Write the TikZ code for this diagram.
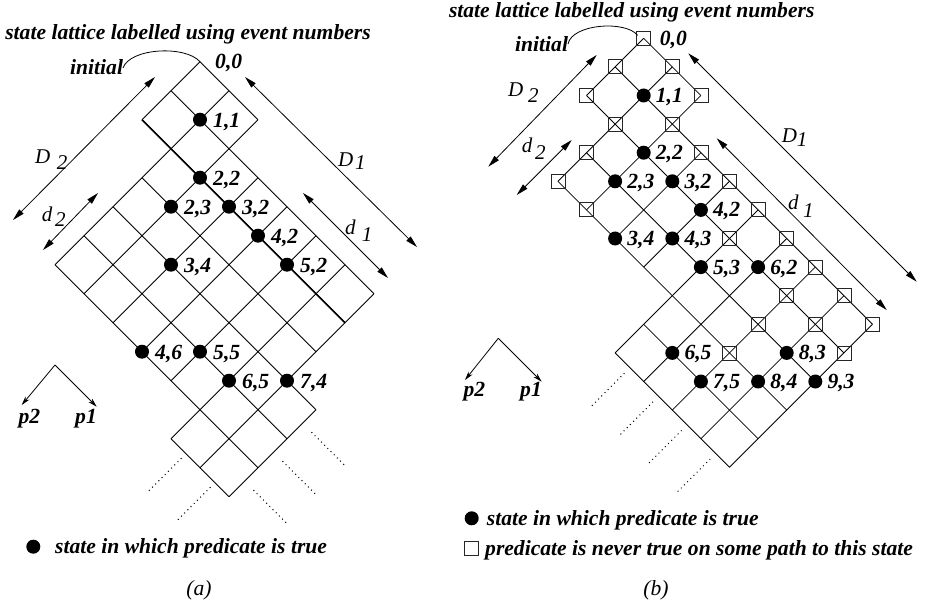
\documentclass[tikz,border=0pt]{standalone}
\usepackage{fontspec}
\setmainfont{Liberation Serif}
\usetikzlibrary{arrows.meta,calc}
\begin{document}
\begin{tikzpicture}[x=1pt,y=-1pt,
  lat/.style={line width=0.8pt},
  thk/.style={line width=1.5pt},
  dot/.style={circle,fill=black,draw=none,inner sep=0pt,minimum size=14pt},
  sq/.style={draw=black!85,line width=0.8pt,inner sep=0pt,minimum size=14pt},
  lbl/.style={anchor=base west,inner sep=0pt,font=\fontsize{21.6}{24}\selectfont\bfseries\itshape},
  txt/.style={inner sep=0pt,font=\fontsize{21.6}{24}\selectfont\bfseries\itshape},
  dimlbl/.style={anchor=base west,inner sep=0pt,font=\fontsize{21}{24}\selectfont\itshape},
  dim/.style={line width=0.8pt,{Triangle[length=12pt,width=6pt]}-{Triangle[length=12pt,width=6pt]}},
  ax/.style={line width=0.8pt,-{Stealth[length=9pt,width=5pt]}},
  dots/.style={line width=1pt,dash pattern=on 1pt off 3.5pt},
]
\useasboundingbox (0,0) rectangle (930,607);

% ---------------- left lattice ----------------
\foreach \i/\lo/\hi in {0/0/2,1/0/6,2/0/6,3/1/6,4/1/6,5/1/6,6/1/7,7/1/7,8/4/7}{
  \foreach \j in {\lo,...,\hi}{
    \coordinate (L-\i-\j) at ({200+(\i-\j)*29},{61.7+(\i+\j)*29});
  }
}
\foreach \i/\lo/\hi in {0/0/2,1/0/6,2/0/6,3/1/6,4/1/6,5/1/6,6/1/7,7/1/7,8/4/7}{
  \draw[lat] (L-\i-\lo) -- (L-\i-\hi);
}
\foreach \j/\lo/\hi in {0/0/2,1/0/7,2/0/7,3/1/7,4/1/8,5/1/8,6/1/8,7/6/8}{
  \draw[lat] (L-\lo-\j) -- (L-\hi-\j);
}
\draw[thk] (L-0-2) -- (L-7-2);
\foreach \i/\j in {1/1,2/2,2/3,3/2,4/2,3/4,5/2,4/6,5/5,6/5,7/4}{
  \node[dot] (Ld-\i-\j) at (L-\i-\j) {};
  \node[lbl] (Ll-\i-\j) at ($(L-\i-\j)+(13,7.4)$) {\i,\j};
}
\node[lbl] (Ll-0-0) at ($(L-0-0)+(15,6.6)$) {0,0};
\foreach \a/\b in {6-7/7-7,7-7/8-7}{
  \draw[dots] ($(L-\a)!0.5!(L-\b)+(-4,5)$) -- ++(-34,34);
}
\foreach \a/\b in {8-7/8-6,8-6/8-5,8-5/8-4}{
  \draw[dots] ($(L-\a)!0.5!(L-\b)+(10,8)$) -- ++(34,34);
}

% title, initial
\node[txt,anchor=base] (titleL) at (188,40) {state lattice labelled using event numbers};
\node[txt,anchor=base west] (iniL) at (70,75) {initial};
\coordinate (iniLend) at (123,68);
\draw[lat] (iniLend) .. controls (130,48) and (185,45) .. (L-0-0);

% dimension arrows left
\coordinate (LD2a) at (155,77);  \coordinate (LD2b) at (13,220);
\coordinate (Ld2a) at (98,193);  \coordinate (Ld2b) at (43,250);
\coordinate (LD1a) at (245,77);  \coordinate (LD1b) at (417,247);
\coordinate (Ld1a) at (303,193); \coordinate (Ld1b) at (388,278);
\draw[dim] (LD2a) -- (LD2b);
\draw[dim] (Ld2a) -- (Ld2b);
\draw[dim] (LD1a) -- (LD1b);
\draw[dim] (Ld1a) -- (Ld1b);
\node[dimlbl] (LD2l) at (35,163.3) {D};   \node[dimlbl] (LD2s) at (56.7,170) {2};
\node[dimlbl] (Ld2l) at (41.7,221.7) {d}; \node[dimlbl] (Ld2s) at (55,226.7) {2};
\node[dimlbl] (LD1l) at (338,166.7) {D};  \node[dimlbl] (LD1s) at (355,170) {1};
\node[dimlbl] (Ld1l) at (345,235) {d};    \node[dimlbl] (Ld1s) at (361.7,241.7) {1};

% process axes left
\coordinate (LPap) at (55,365);
\coordinate (LP2) at (21.7,405);
\coordinate (LP1) at (96.7,406.7);
\draw[ax] (LPap) -- (LP2);
\draw[ax] (LPap) -- (LP1);
\node[lbl] (LP2l) at (18.3,423.3) {p2};
\node[lbl] (LP1l) at (75,423.3) {p1};

% legend left
\node[dot] (LegLd) at (33.3,546.7) {};
\node[txt,anchor=base west] (LegLt) at (55,553) {state in which predicate is true};
\node[anchor=base,inner sep=0pt,font=\fontsize{21.6}{24}\selectfont\itshape] (capa) at (199,595) {(a)};

% ---------------- right lattice ----------------
\foreach \i/\lo/\hi in {0/0/2,1/0/4,2/0/4,3/1/4,4/1/4,5/1/6,6/1/6,7/1/6,8/1/6,9/1/6}{
  \foreach \j in {\lo,...,\hi}{
    \coordinate (R-\i-\j) at ({643.7+(\i-\j)*28.6},{38.3+(\i+\j)*28.6});
  }
}
\foreach \i/\lo/\hi in {0/0/2,1/0/4,2/0/4,3/1/4,4/1/4,5/1/6,6/1/6,7/1/6,8/1/6,9/1/6}{
  \draw[lat] (R-\i-\lo) -- (R-\i-\hi);
}
\foreach \j/\lo/\hi in {0/0/2,1/0/9,2/0/9,3/1/9,4/1/9,5/5/9,6/5/9}{
  \draw[lat] (R-\lo-\j) -- (R-\hi-\j);
}
\foreach \i/\j in {0/0,0/1,1/0,0/2,2/0,1/2,2/1,1/3,3/1,1/4,4/1,2/4,5/1,5/2,6/1,7/1,7/2,8/1,7/3,8/2,9/1,7/4,9/2}{
  \node[sq] (Rs-\i-\j) at (R-\i-\j) {};
}
\foreach \i/\j in {1/1,2/2,2/3,3/2,4/2,3/4,4/3,5/3,6/2,6/5,8/3,7/5,8/4,9/3}{
  \node[dot] (Rd-\i-\j) at (R-\i-\j) {};
  \node[lbl] (Rl-\i-\j) at ($(R-\i-\j)+(12,7)$) {\i,\j};
}
\node[lbl] (Rl-0-0) at ($(R-0-0)+(16,7)$) {0,0};
\foreach \a/\b in {5-6/6-6,6-6/7-6,7-6/8-6,8-6/9-6}{
  \draw[dots] ($(R-\a)!0.5!(R-\b)+(-5,6)$) -- ++(-33,33);
}

% title, initial
\node[txt,anchor=base] (titleR) at (631.7,17.5) {state lattice labelled using event numbers};
\node[txt,anchor=base west] (iniR) at (515,51.7) {initial};
\coordinate (iniRend) at (568,44);
\coordinate (iniRtgt) at ($(R-0-0)+(-6,-3)$);
\draw[lat] (iniRend) .. controls (572,24) and (625,20) .. (iniRtgt);

% dimension arrows right
\coordinate (RD2a) at (596.7,55);  \coordinate (RD2b) at (488.3,166.7);
\coordinate (Rd2a) at (571.7,140); \coordinate (Rd2b) at (516.7,195);
\coordinate (RD1a) at (688.3,53.3); \coordinate (RD1b) at (916.7,281.7);
\coordinate (Rd1a) at (716.7,138.3); \coordinate (Rd1b) at (886.7,310);
\draw[dim] (RD2a) -- (RD2b);
\draw[dim] (Rd2a) -- (Rd2b);
\draw[dim] (RD1a) -- (RD1b);
\draw[dim] (Rd1a) -- (Rd1b);
\node[dimlbl] (RD2l) at (508,96.7) {D};   \node[dimlbl] (RD2s) at (528,103) {2};
\node[dimlbl] (Rd2l) at (521.7,153) {d};  \node[dimlbl] (Rd2s) at (535,160) {2};
\node[dimlbl] (RD1l) at (781.7,143) {D};  \node[dimlbl] (RD1s) at (796.7,146.7) {1};
\node[dimlbl] (Rd1l) at (788,210) {d};    \node[dimlbl] (Rd1s) at (803,218) {1};

% process axes right
\coordinate (RPap) at (498.3,338.3);
\coordinate (RP2) at (465,380);
\coordinate (RP1) at (541.7,381.7);
\draw[ax] (RPap) -- (RP2);
\draw[ax] (RPap) -- (RP1);
\node[lbl] (RP2l) at (463.3,396.7) {p2};
\node[lbl] (RP1l) at (520,396.7) {p1};

% legend right
\node[dot] (LegRd) at (471.7,518.3) {};
\node[txt,anchor=base west] (LegRt) at (486.7,525) {state in which predicate is true};
\node[sq] (LegRs) at (471.7,548.3) {};
\node[txt,anchor=base west] (LegRt2) at (485,555) {predicate is never true on some path to this state};
\node[anchor=base,inner sep=0pt,font=\fontsize{21.6}{24}\selectfont\itshape] (capb) at (656,595) {(b)};
\end{tikzpicture}
\end{document}
